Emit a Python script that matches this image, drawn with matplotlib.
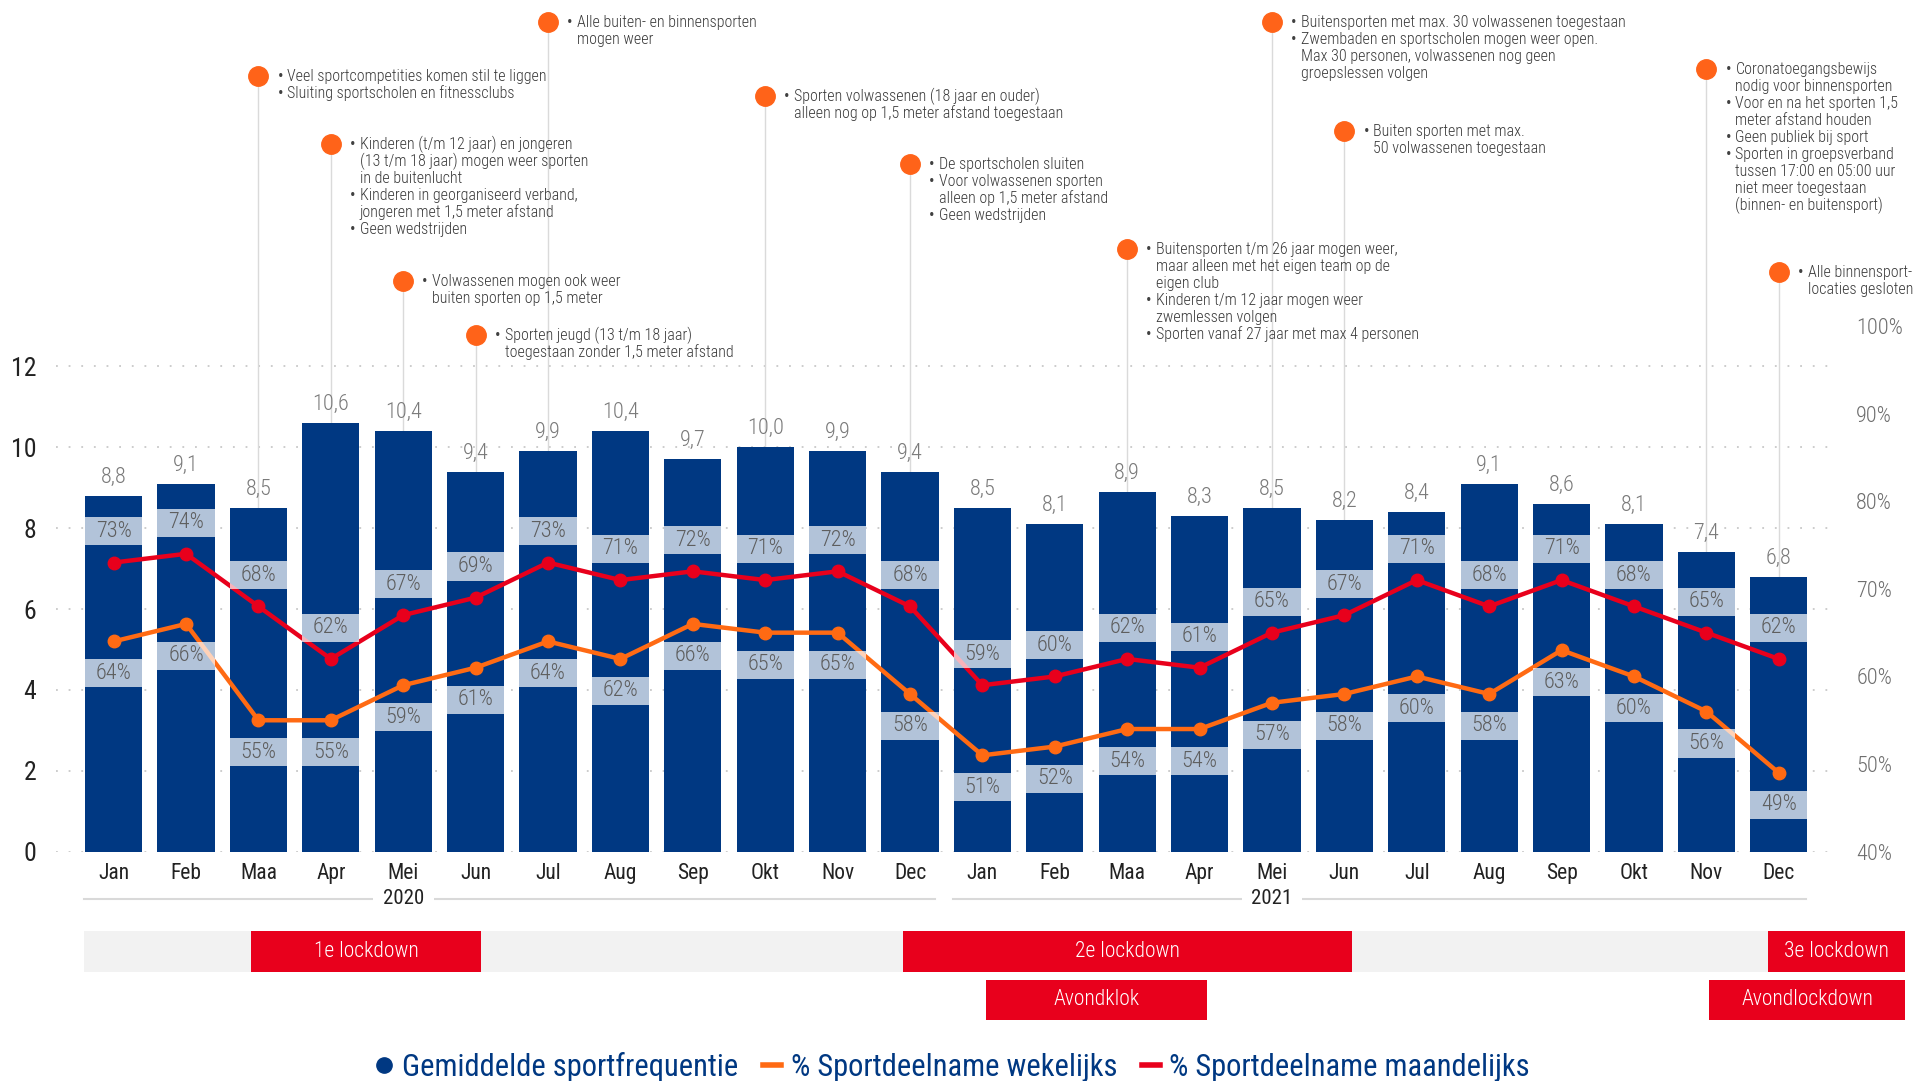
import numpy as np
import matplotlib.pyplot as plt
import matplotlib.transforms as mtransforms
from matplotlib import font_manager
from matplotlib.patches import Rectangle
from matplotlib.lines import Line2D

# smalle letter als die er is, anders Roboto
namen = {f.name for f in font_manager.fontManager.ttflist}
if 'Roboto Condensed' in namen:
    letter, smal = 'Roboto Condensed', True
else:
    letter, smal = 'Roboto', False
plt.rcParams['font.family'] = [letter, 'DejaVu Sans']
k = 1.0 if smal else 0.88  # schaal voor bredere letter
ann_fs = 11.5 * k
DUN = 'light'

# data
maanden = ['Jan', 'Feb', 'Maa', 'Apr', 'Mei', 'Jun', 'Jul', 'Aug', 'Sep', 'Okt', 'Nov', 'Dec'] * 2
jaren = ['2020', '2021']
frequentie = [8.8, 9.1, 8.5, 10.6, 10.4, 9.4, 9.9, 10.4, 9.7, 10.0, 9.9, 9.4,
              8.5, 8.1, 8.9, 8.3, 8.5, 8.2, 8.4, 9.1, 8.6, 8.1, 7.4, 6.8]
wekelijks = [64, 66, 55, 55, 59, 61, 64, 62, 66, 65, 65, 58,
             51, 52, 54, 54, 57, 58, 60, 58, 63, 60, 56, 49]
maandelijks = [73, 74, 68, 62, 67, 69, 73, 71, 72, 71, 72, 68,
               59, 60, 62, 61, 65, 67, 71, 68, 71, 68, 65, 62]

# lockdown periodes (in maanden vanaf jan 2020)
lockdown_naam = ['1e lockdown', '2e lockdown', '3e lockdown']
lockdown_start = [1.9, 10.9, 22.85]
lockdown_eind = [5.07, 17.1, 24.75]
avond_naam = ['Avondklok', 'Avondlockdown']
avond_start = [12.05, 22.03]
avond_eind = [15.1, 24.75]

# maatregelen per maand
maatregel_maand = [2, 3, 4, 5, 6, 9, 11, 14, 16, 17, 22, 23]
maatregel_tekst = [
    [['Veel sportcompetities komen stil te liggen'], ['Sluiting sportscholen en fitnessclubs']],
    [['Kinderen (t/m 12 jaar) en jongeren', '(13 t/m 18 jaar) mogen weer sporten', 'in de buitenlucht'],
     ['Kinderen in georganiseerd verband,', 'jongeren met 1,5 meter afstand'], ['Geen wedstrijden']],
    [['Volwassenen mogen ook weer', 'buiten sporten op 1,5 meter']],
    [['Sporten jeugd (13 t/m 18 jaar)', 'toegestaan zonder 1,5 meter afstand']],
    [['Alle buiten- en binnensporten', 'mogen weer']],
    [['Sporten volwassenen (18 jaar en ouder)', 'alleen nog op 1,5 meter afstand toegestaan']],
    [['De sportscholen sluiten'], ['Voor volwassenen sporten', 'alleen op 1,5 meter afstand'],
     ['Geen wedstrijden']],
    [['Buitensporten t/m 26 jaar mogen weer,', 'maar alleen met het eigen team op de', 'eigen club'],
     ['Kinderen t/m 12 jaar mogen weer', 'zwemlessen volgen'], ['Sporten vanaf 27 jaar met max 4 personen']],
    [['Buitensporten met max. 30 volwassenen toegestaan'],
     ['Zwembaden en sportscholen mogen weer open.', 'Max 30 personen, volwassenen nog geen',
      'groepslessen volgen']],
    [['Buiten sporten met max.', '50 volwassenen toegestaan']],
    [['Coronatoegangsbewijs', 'nodig voor binnensporten'], ['Voor en na het sporten 1,5', 'meter afstand houden'],
     ['Geen publiek bij sport'],
     ['Sporten in groepsverband', 'tussen 17:00 en 05:00 uur', 'niet meer toegestaan', '(binnen- en buitensport)']],
    [['Alle binnensport-', 'locaties gesloten']],
]
# hoogte van de stip (pixels vanaf boven)
punt_y = [76, 144, 281, 335, 22, 96, 164, 249, 22, 131, 69, 272]

NAVY = '#003882'
ORANJE = '#ff6a13'
ROOD = '#e8001c'
W, H = 1916, 1081

fig = plt.figure(figsize=(W / 100, H / 100), dpi=100)
ax = fig.add_axes([55.7 / W, 229.3 / H, 1781 / W, 525.7 / H])
ax2 = ax.twinx()

x = np.arange(len(frequentie))
ax.bar(x, frequentie, width=0.79, color=NAVY, zorder=2)
for xi, v in zip(x, frequentie):
    ax.annotate(f'{v:.1f}'.replace('.', ','), (xi, v), xytext=(0, 8), textcoords='offset pixels',
                ha='center', va='bottom', fontsize=16 * k, color='#7a7a7a', fontweight=DUN, zorder=3)

ax.set_xlim(-0.8, 23.8)
ax.set_ylim(0, 13)
ax.set_yticks(range(0, 13, 2))
ax.grid(axis='y', color='#c8c8c8', linestyle=(0, (1, 6)), lw=1.3, zorder=0)
ax.set_axisbelow(True)
ax.set_xticks(x)
ax.set_xticklabels(maanden, fontsize=15.5 * k, color='#222222')
ax.tick_params(axis='x', length=0, pad=8)
ax.tick_params(axis='y', length=0, pad=14, labelsize=18.5 * k, labelcolor='#222222')

# lijnen
ax2.plot(x, wekelijks, color=ORANJE, lw=3.2, marker='o', ms=9, zorder=3)
ax2.plot(x, maandelijks, color=ROOD, lw=3.2, marker='o', ms=9, zorder=3)
ax2.set_ylim(40, 100)
ax2.set_yticks(range(40, 101, 10))
ax2.set_yticklabels([f'{v}%' for v in range(40, 101, 10)], fontweight=DUN)
ax2.tick_params(axis='y', length=0, pad=14, labelsize=16 * k, labelcolor='#6e6e6e')

box_h = 3.2
for serie, off in [(wekelijks, -3.65), (maandelijks, 3.55)]:
    mid = np.array(serie) + off
    ax2.bar(x, box_h, bottom=mid - box_h / 2, width=0.79, color='white', alpha=0.7, zorder=4)
    for xi, m, v in zip(x, mid, serie):
        ax2.text(xi, m, f'{v}%', ha='center', va='center', fontsize=16 * k, color='#5e5e5e',
                 fontweight=DUN, zorder=5)

for a in (ax, ax2):
    for s in a.spines.values():
        s.set_visible(False)

# maatregelen boven de grafiek
blend = mtransforms.blended_transform_factory(ax.transData, fig.transFigure)
inv = ax.transData.inverted()
for m, regels, py in zip(maatregel_maand, maatregel_tekst, punt_y):
    yf = 1 - py / H
    ytop = inv.transform(fig.transFigure.transform((0, yf)))[1]
    ax.plot([m, m], [frequentie[m], ytop], color='#dadada', lw=1, clip_on=False, zorder=1)
    ax.plot([m], [yf], marker='o', ms=14, color='#ff6319', transform=blend, clip_on=False, zorder=6)
    i = 0
    for bullet in regels:
        for j, regel in enumerate(bullet):
            dy = -5 - i * 17
            if j == 0:
                t = mtransforms.offset_copy(blend, fig=fig, x=19, y=dy, units='dots')
                ax.text(m, yf, '•', transform=t, fontsize=ann_fs, color='#404040', va='baseline',
                        clip_on=False)
            t = mtransforms.offset_copy(blend, fig=fig, x=29, y=dy, units='dots')
            ax.text(m, yf, regel, transform=t, fontsize=ann_fs, color='#3a3a3a', va='baseline',
                    fontweight=DUN, clip_on=False)
            i += 1

# jaren
yj = 1 - 899 / H
ax.plot([-0.41, 11.35], [yj, yj], color='#d9d9d9', lw=1.5, transform=blend, clip_on=False)
ax.plot([11.6, 23.37], [yj, yj], color='#d9d9d9', lw=1.5, transform=blend, clip_on=False)
for xj, jaar in zip([4, 16], jaren):
    ax.text(xj, yj, jaar, transform=blend, ha='center', va='center', fontsize=15 * k, color='#222222',
            bbox=dict(facecolor='white', edgecolor='none', pad=7), clip_on=False)

# lockdown balk
y0, y1 = 1 - 971.5 / H, 1 - 931 / H
ax.add_patch(Rectangle((-0.41, y0), 24.75 + 0.41, y1 - y0, transform=blend, facecolor='#f2f2f2',
                       edgecolor='none', clip_on=False))
for naam, s, e in zip(lockdown_naam, lockdown_start, lockdown_eind):
    ax.add_patch(Rectangle((s, y0), e - s, y1 - y0, transform=blend, facecolor=ROOD, edgecolor='none',
                           clip_on=False))
    ax.text((s + e) / 2, (y0 + y1) / 2, naam, transform=blend, ha='center', va='center',
            fontsize=15.5 * k, color='white', fontweight=DUN, clip_on=False)
a0, a1 = 1 - 1020 / H, 1 - 979.5 / H
for naam, s, e in zip(avond_naam, avond_start, avond_eind):
    ax.add_patch(Rectangle((s, a0), e - s, a1 - a0, transform=blend, facecolor=ROOD, edgecolor='none',
                           clip_on=False))
    ax.text((s + e) / 2, (a0 + a1) / 2, naam, transform=blend, ha='center', va='center',
            fontsize=15.5 * k, color='white', fontweight=DUN, clip_on=False)

# legenda
handles = [Line2D([], [], marker='o', color=NAVY, linestyle='none', markersize=11),
           Line2D([], [], color=ORANJE, lw=4),
           Line2D([], [], color=ROOD, lw=4)]
labels = ['Gemiddelde sportfrequentie', '% Sportdeelname wekelijks', '% Sportdeelname maandelijks']
fig.legend(handles, labels, loc='center', bbox_to_anchor=(0.497, 14 / H), ncol=3, frameon=False,
           fontsize=22 * k, labelcolor=NAVY, handlelength=0.6, handletextpad=0.3, columnspacing=0.8,
           borderaxespad=0, borderpad=0)

fig.savefig('out.png', dpi=100)
